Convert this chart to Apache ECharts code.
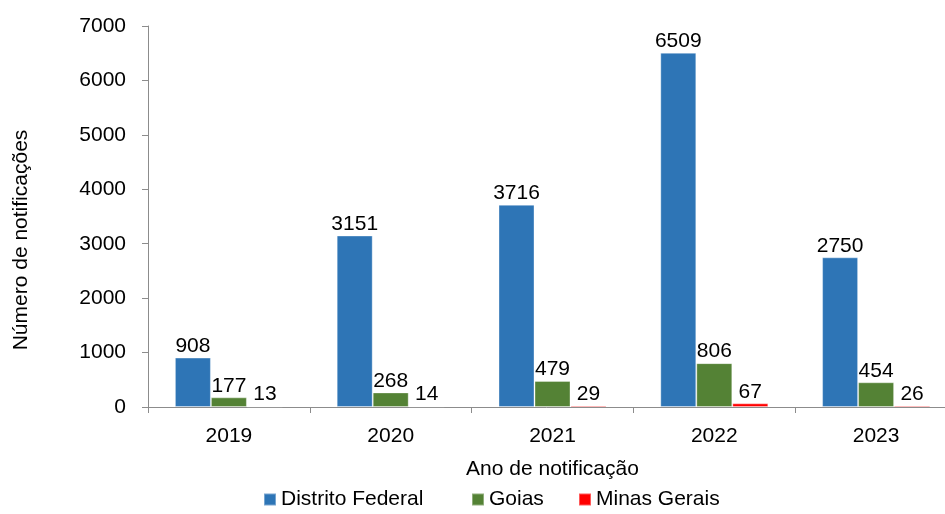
<!DOCTYPE html>
<html>
<head>
<meta charset="utf-8">
<script src="https://cdn.jsdelivr.net/npm/echarts@6/dist/echarts.min.js"></script>
<style>
  html, body { margin: 0; padding: 0; background: #fff; }
  #chart { width: 945px; height: 514px; }
</style>
</head>
<body>
<div id="chart"></div>
<script>
const years = ["2019", "2020", "2021", "2022", "2023"];
const distritoFederal = [908, 3151, 3716, 6509, 2750];
const goias = [177, 268, 479, 806, 454];
const minasGerais = [13, 14, 29, 67, 26];
const seriesNames = ["Distrito Federal", "Goias", "Minas Gerais"];

const font = "Liberation Sans, Arial, sans-serif";
const fs = 21;
const chart = echarts.init(document.getElementById("chart"));

function barSeries(name, data, color) {
  return {
    name: name,
    type: "bar",
    data: data,
    barWidth: 36,
    barGap: "0%",
    itemStyle: { color: color, borderColor: "rgba(255,255,255,0.35)", borderWidth: 1 },
    label: {
      show: true,
      position: "top",
      distance: 1,
      color: "#000",
      fontFamily: font,
      fontSize: fs,
    },
  };
}

// original legend text is wider than ours, so place each entry on its own
const legendLeft = [258, 466, 573];

chart.setOption({
  animation: false,
  grid: { left: 148, width: 809, top: 26, bottom: 107, outerBoundsMode: "none", containLabel: false },
  legend: seriesNames.map((n, i) => ({
    left: legendLeft[i],
    top: 484,
    itemWidth: 12,
    itemHeight: 12,
    icon: "rect",
    textStyle: { fontFamily: font, fontSize: fs, color: "#000" },
    data: [n],
  })),
  xAxis: {
    type: "category",
    data: years,
    name: "Ano de notificação",
    nameLocation: "middle",
    nameGap: 52,
    nameTextStyle: { fontFamily: font, fontSize: fs, color: "#000" },
    axisLine: { lineStyle: { color: "#8c8c8c" } },
    axisTick: { show: true, length: 6, lineStyle: { color: "#8c8c8c" } },
    axisLabel: { fontFamily: font, fontSize: fs, color: "#000", margin: 19 },
  },
  yAxis: {
    type: "value",
    min: 0,
    max: 7000,
    interval: 1000,
    axisLine: { show: true, lineStyle: { color: "#8c8c8c" } },
    axisTick: { show: true, length: 6, lineStyle: { color: "#8c8c8c" } },
    splitLine: { show: false },
    axisLabel: { fontFamily: font, fontSize: fs, color: "#000", margin: 22, formatter: (v) => String(v) },
  },
  graphic: [
    {
      type: "text",
      x: 11,
      y: 240,
      rotation: Math.PI / 2,
      style: {
        text: "Número de notificações",
        fontFamily: font,
        fontSize: fs,
        fill: "#000",
        align: "center",
        verticalAlign: "top",
      },
    },
  ],
  series: [
    barSeries(seriesNames[0], distritoFederal, "#2e75b6"),
    barSeries(seriesNames[1], goias, "#548235"),
    barSeries(seriesNames[2], minasGerais, "#ff0000"),
  ],
});
</script>
</body>
</html>
